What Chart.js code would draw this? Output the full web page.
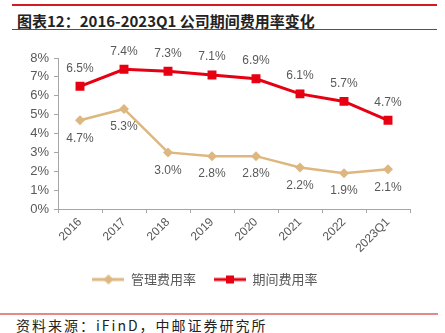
<!DOCTYPE html>
<html>
<head>
<meta charset="utf-8">
<script src="https://cdn.jsdelivr.net/npm/chart.js@4/dist/chart.umd.min.js"></script>
<style>
  body { margin: 0; background: #fff; width: 445px; height: 333px; position: relative; overflow: hidden; }
  .topline { position: absolute; left: 12px; right: 8px; top: 4px; height: 2px; background: #d7191f; }
  .title { position: absolute; left: 17px; top: 10px; font: bold 15px "Noto Sans CJK SC", sans-serif; color: #222; }
  .subline { position: absolute; left: 12px; right: 8px; top: 29px; height: 1px; background: #d7191f; }
  .footline { position: absolute; left: 0; right: 7px; top: 313px; height: 2px; background: #e08a8a; }
  .source { position: absolute; left: 16px; top: 316px; font: 14px "Noto Sans CJK SC", sans-serif; letter-spacing: 2px; color: #222; line-height: 18px; }
  #wrap { position: absolute; left: 0; top: 36px; width: 445px; height: 260px; }
</style>
</head>
<body>
<div class="topline"></div>
<div class="title">图表12：2016-2023Q1 公司期间费用率变化</div>
<div class="subline"></div>
<div id="wrap"><canvas id="c" width="445" height="260"></canvas></div>
<div class="footline"></div>
<div class="source">资料来源：iFinD，中邮证券研究所</div>
<script>
const categories = ['2016', '2017', '2018', '2019', '2020', '2021', '2022', '2023Q1'];
const adminRate = [4.7, 5.3, 3.0, 2.8, 2.8, 2.2, 1.9, 2.1];
const periodRate = [6.5, 7.4, 7.3, 7.1, 6.9, 6.1, 5.7, 4.7];
const yTicks = [0, 1, 2, 3, 4, 5, 6, 7, 8];

const RED = '#e60012';
const TAN = '#ddb77f';
const GREY = '#595959';

// legend swatch: line with marker in the middle
function swatch(color, shape) {
  const c = document.createElement('canvas');
  c.width = 32; c.height = 12;
  const g = c.getContext('2d');
  g.strokeStyle = color; g.lineWidth = 3;
  g.beginPath(); g.moveTo(0, 6); g.lineTo(32, 6); g.stroke();
  g.fillStyle = color;
  g.beginPath();
  if (shape === 'diamond') {
    g.moveTo(16, 1); g.lineTo(21, 6); g.lineTo(16, 11); g.lineTo(11, 6);
  } else {
    g.rect(12, 2, 8, 8);
  }
  g.closePath(); g.fill();
  return c;
}

const valueLabels = {
  id: 'valueLabels',
  afterDatasetsDraw(chart) {
    const ctx = chart.ctx;
    ctx.save();
    ctx.font = '12px "Liberation Sans", Arial, sans-serif';
    ctx.fillStyle = GREY;
    ctx.textAlign = 'center';
    ctx.textBaseline = 'middle';
    chart.data.datasets.forEach((ds, i) => {
      const meta = chart.getDatasetMeta(i);
      const dy = ds.labelPos === 'above' ? -18 : 18;
      meta.data.forEach((pt, j) => {
        ctx.fillText(ds.data[j].toFixed(1) + '%', pt.x, pt.y + dy);
      });
    });
    ctx.restore();
  }
};

new Chart(document.getElementById('c'), {
  type: 'line',
  data: {
    labels: categories,
    datasets: [
      {
        label: '管理费用率',
        data: adminRate,
        borderColor: TAN,
        backgroundColor: TAN,
        borderWidth: 2.5,
        pointStyle: 'rectRot',
        pointRadius: 5,
        pointBorderWidth: 0,
        labelPos: 'below',
      },
      {
        label: '期间费用率',
        data: periodRate,
        borderColor: RED,
        backgroundColor: RED,
        borderWidth: 3,
        pointStyle: 'rect',
        pointRadius: 6.3,
        pointBorderWidth: 0,
        labelPos: 'above',
      },
    ],
  },
  options: {
    responsive: false,
    animation: false,
    layout: { padding: { left: 0, right: 35, top: 22, bottom: 0 } },
    plugins: {
      tooltip: { enabled: false },
      legend: {
        position: 'bottom',
        labels: {
          color: GREY,
          font: { family: '"Noto Sans CJK SC", sans-serif', size: 13 },
          usePointStyle: true,
          pointStyleWidth: 32,
          padding: 18,
          generateLabels: chart => chart.data.datasets.map((ds, i) => ({
            text: ds.label,
            pointStyle: swatch(ds.borderColor, i === 0 ? 'diamond' : 'rect'),
            fontColor: GREY,
            datasetIndex: i,
          })),
        },
      },
    },
    scales: {
      x: {
        offset: true,
        afterFit: axis => { axis.height = 46; },
        grid: { display: true, drawOnChartArea: false, offset: true, tickLength: 4, color: '#a6a6a6' },
        border: { color: '#a6a6a6' },
        ticks: {
          color: GREY,
          padding: 2,
          font: { family: '"Liberation Sans", Arial, sans-serif', size: 12 },
          maxRotation: 45, minRotation: 45,
        },
      },
      y: {
        min: 0, max: 8,
        afterFit: axis => { axis.width = 58; },
        afterBuildTicks: axis => { axis.ticks = yTicks.map(v => ({ value: v })); },
        grid: { display: true, drawOnChartArea: false, tickLength: 4, color: '#a6a6a6' },
        border: { color: '#a6a6a6' },
        ticks: {
          color: GREY,
          padding: 5,
          font: { family: '"Liberation Sans", Arial, sans-serif', size: 13 },
          callback: v => v + '%',
        },
      },
    },
  },
  plugins: [valueLabels],
});
</script>
</body>
</html>
